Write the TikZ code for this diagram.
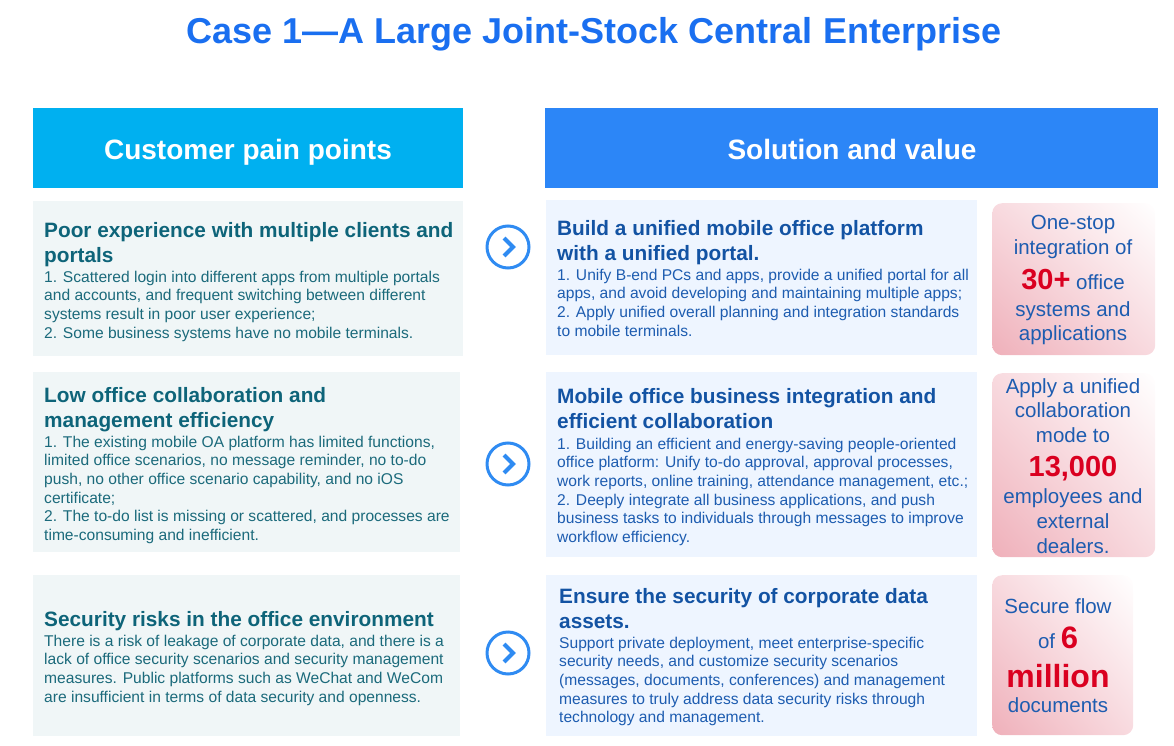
\documentclass[tikz,border=0pt]{standalone}
\usepackage{fontspec}
\usetikzlibrary{shadings}
\setmainfont{Liberation Sans}
\definecolor{titleblue}{RGB}{26,111,240}
\definecolor{hdleft}{RGB}{0,176,240}
\definecolor{hdright}{RGB}{44,134,247}
\definecolor{lfill}{RGB}{240,246,247}
\definecolor{rfill}{RGB}{238,245,255}
\definecolor{ltitle}{RGB}{14,100,121}
\definecolor{lbody}{RGB}{27,106,123}
\definecolor{rtitle}{RGB}{19,83,163}
\definecolor{rbody}{RGB}{29,92,176}
\definecolor{accred}{RGB}{218,0,32}
\definecolor{cblue}{RGB}{47,139,242}
\definecolor{pinkA}{RGB}{239,176,186}
\definecolor{pinkB}{RGB}{248,218,223}
\newcommand\stacklines[1]{\vtop{\halign{##\hfil\cr #1\crcr}}}
\begin{document}
\begin{tikzpicture}[x=1pt,y=-1pt,
  lbox/.style={fill=lfill, inner sep=0, anchor=north west},
  rbox/.style={fill=rfill, inner sep=0, anchor=north west},
  pbox/.style={inner sep=0, anchor=north west, rounded corners=10pt, shade,
    lower left=pinkA, upper right=white, upper left=pinkB, lower right=pinkB},
  ltit/.style={inner sep=0, anchor=base west, text=ltitle, font=\bfseries\fontsize{20.8}{25}\selectfont},
  lbod/.style={inner sep=0, anchor=base west, text=lbody, font=\fontsize{15.6}{18.7}\selectfont},
  rtit/.style={inner sep=0, anchor=base west, text=rtitle, font=\bfseries\fontsize{20.8}{25}\selectfont},
  rbod/.style={inner sep=0, anchor=base west, text=rbody, font=\fontsize{15.6}{18.7}\selectfont},
  pline/.style={inner sep=0, anchor=base, text=rbody, font=\fontsize{20.5}{24}\selectfont},
  big/.style={text=accred, font=\bfseries\fontsize{29}{32}\selectfont},
  arrowcirc/.style={circle, draw=cblue, line width=3pt, minimum size=42pt, inner sep=0},
  chev/.style={draw=cblue, line width=4.2pt}
]
\useasboundingbox (0,0) rectangle (1174,746);

% title
\node[inner sep=0, anchor=base, text=titleblue, font=\bfseries\fontsize{36}{40}\selectfont] (title) at (594,44) {Case 1—A Large Joint-Stock Central Enterprise};

% headers
\node[fill=hdleft, inner sep=0, anchor=north west, minimum width=430pt, minimum height=80pt] (hl) at (33,108) {};
\node[fill=hdright, inner sep=0, anchor=north west, minimum width=613pt, minimum height=80pt] (hr) at (545,108) {};
\node[inner sep=0, anchor=base, text=white, font=\bfseries\fontsize{28}{32}\selectfont] (hlt) at (248,160) {Customer pain points};
\node[inner sep=0, anchor=base, text=white, font=\bfseries\fontsize{28}{32}\selectfont] (hrt) at (852,160) {Solution and value};

% left boxes
\node[lbox, minimum width=430pt, minimum height=155pt] (l1) at (33,201) {};
\node[lbox, minimum width=427pt, minimum height=180pt] (l2) at (33,372) {};
\node[lbox, minimum width=427pt, minimum height=161pt] (l3) at (33,575) {};

% right boxes
\node[rbox, minimum width=431pt, minimum height=155pt] (r1) at (546,200) {};
\node[rbox, minimum width=431pt, minimum height=185pt] (r2) at (546,372) {};
\node[rbox, minimum width=431pt, minimum height=161pt] (r3) at (546,575) {};

% pink boxes
\node[pbox, minimum width=163pt, minimum height=152pt] (p1) at (992,203) {};
\node[pbox, minimum width=163pt, minimum height=184pt] (p2) at (992,373) {};
\node[pbox, minimum width=141pt, minimum height=160pt] (p3) at (992,575) {};

% arrows
\foreach \n/\yy in {c1/247, c2/464, c3/653} {
  \node[arrowcirc] (\n) at (508,\yy) {};
  \draw[chev] ([xshift=-4pt,yshift=9pt]\n.center) -- ([xshift=5pt]\n.center) -- ([xshift=-4pt,yshift=-9pt]\n.center);
}

% left texts
\node[ltit] (l1t) at (44,237) {\stacklines{Poor experience with multiple clients and\cr portals}};
\node[lbod] (l1b) at (44,282) {\stacklines{1. Scattered login into different apps from multiple portals\cr and accounts, and frequent switching between different\cr systems result in poor user experience;\cr 2. Some business systems have no mobile terminals.}};

\node[ltit] (l2t) at (44,402) {\stacklines{Low office collaboration and\cr management efficiency}};
\node[lbod] (l2b) at (44,447) {\stacklines{1. The existing mobile OA platform has limited functions,\cr limited office scenarios, no message reminder, no to-do\cr push, no other office scenario capability, and no iOS\cr certificate;\cr 2. The to-do list is missing or scattered, and processes are\cr time-consuming and inefficient.}};

\node[ltit] (l3t) at (44,626) {Security risks in the office environment};
\node[lbod] (l3b) at (44,646) {\stacklines{There is a risk of leakage of corporate data, and there is a\cr lack of office security scenarios and security management\cr measures. Public platforms such as WeChat and WeCom\cr are insufficient in terms of data security and openness.}};

% right texts
\node[rtit] (r1t) at (557,235) {\stacklines{Build a unified mobile office platform\cr with a unified portal.}};
\node[rbod] (r1b) at (557,280) {\stacklines{1. Unify B-end PCs and apps, provide a unified portal for all\cr apps, and avoid developing and maintaining multiple apps;\cr 2. Apply unified overall planning and integration standards\cr to mobile terminals.}};

\node[rtit] (r2t) at (557,403) {\stacklines{Mobile office business integration and\cr efficient collaboration}};
\node[rbod] (r2b) at (557,449) {\stacklines{1. Building an efficient and energy-saving people-oriented\cr office platform: Unify to-do approval, approval processes,\cr work reports, online training, attendance management, etc.;\cr 2. Deeply integrate all business applications, and push\cr business tasks to individuals through messages to improve\cr workflow efficiency.}};

\node[rtit] (r3t) at (559,603) {\stacklines{Ensure the security of corporate data\cr assets.}};
\node[rbod] (r3b) at (559,648) {\stacklines{Support private deployment, meet enterprise-specific\cr security needs, and customize security scenarios\cr (messages, documents, conferences) and management\cr measures to truly address data security risks through\cr technology and management.}};

% pink texts
\node[pline] (p1a) at (1073,229) {One-stop};
\node[pline] (p1b) at (1073,254) {integration of};
\node[pline] (p1c) at (1073,289) {{\bfseries\fontsize{29}{32}\selectfont\color{accred}30+} office};
\node[pline] (p1d) at (1073,316) {systems and};
\node[pline] (p1e) at (1073,340) {applications};

\node[pline] (p2a) at (1073,393) {Apply a unified};
\node[pline] (p2b) at (1073,417) {collaboration};
\node[pline] (p2c) at (1073,442) {mode to};
\node[pline, big] (p2d) at (1073,476) {13,000};
\node[pline] (p2e) at (1073,503) {employees and};
\node[pline] (p2f) at (1073,528) {external};
\node[pline] (p2g) at (1073,553) {dealers.};

\node[pline] (p3a) at (1058,613) {Secure flow};
\node[pline] (p3b) at (1058,648) {of {\bfseries\fontsize{31}{34}\selectfont\color{accred}6}};
\node[pline, big, font=\bfseries\fontsize{32}{36}\selectfont] (p3c) at (1058,687) {million};
\node[pline] (p3d) at (1058,712) {documents};
\end{tikzpicture}
\end{document}
